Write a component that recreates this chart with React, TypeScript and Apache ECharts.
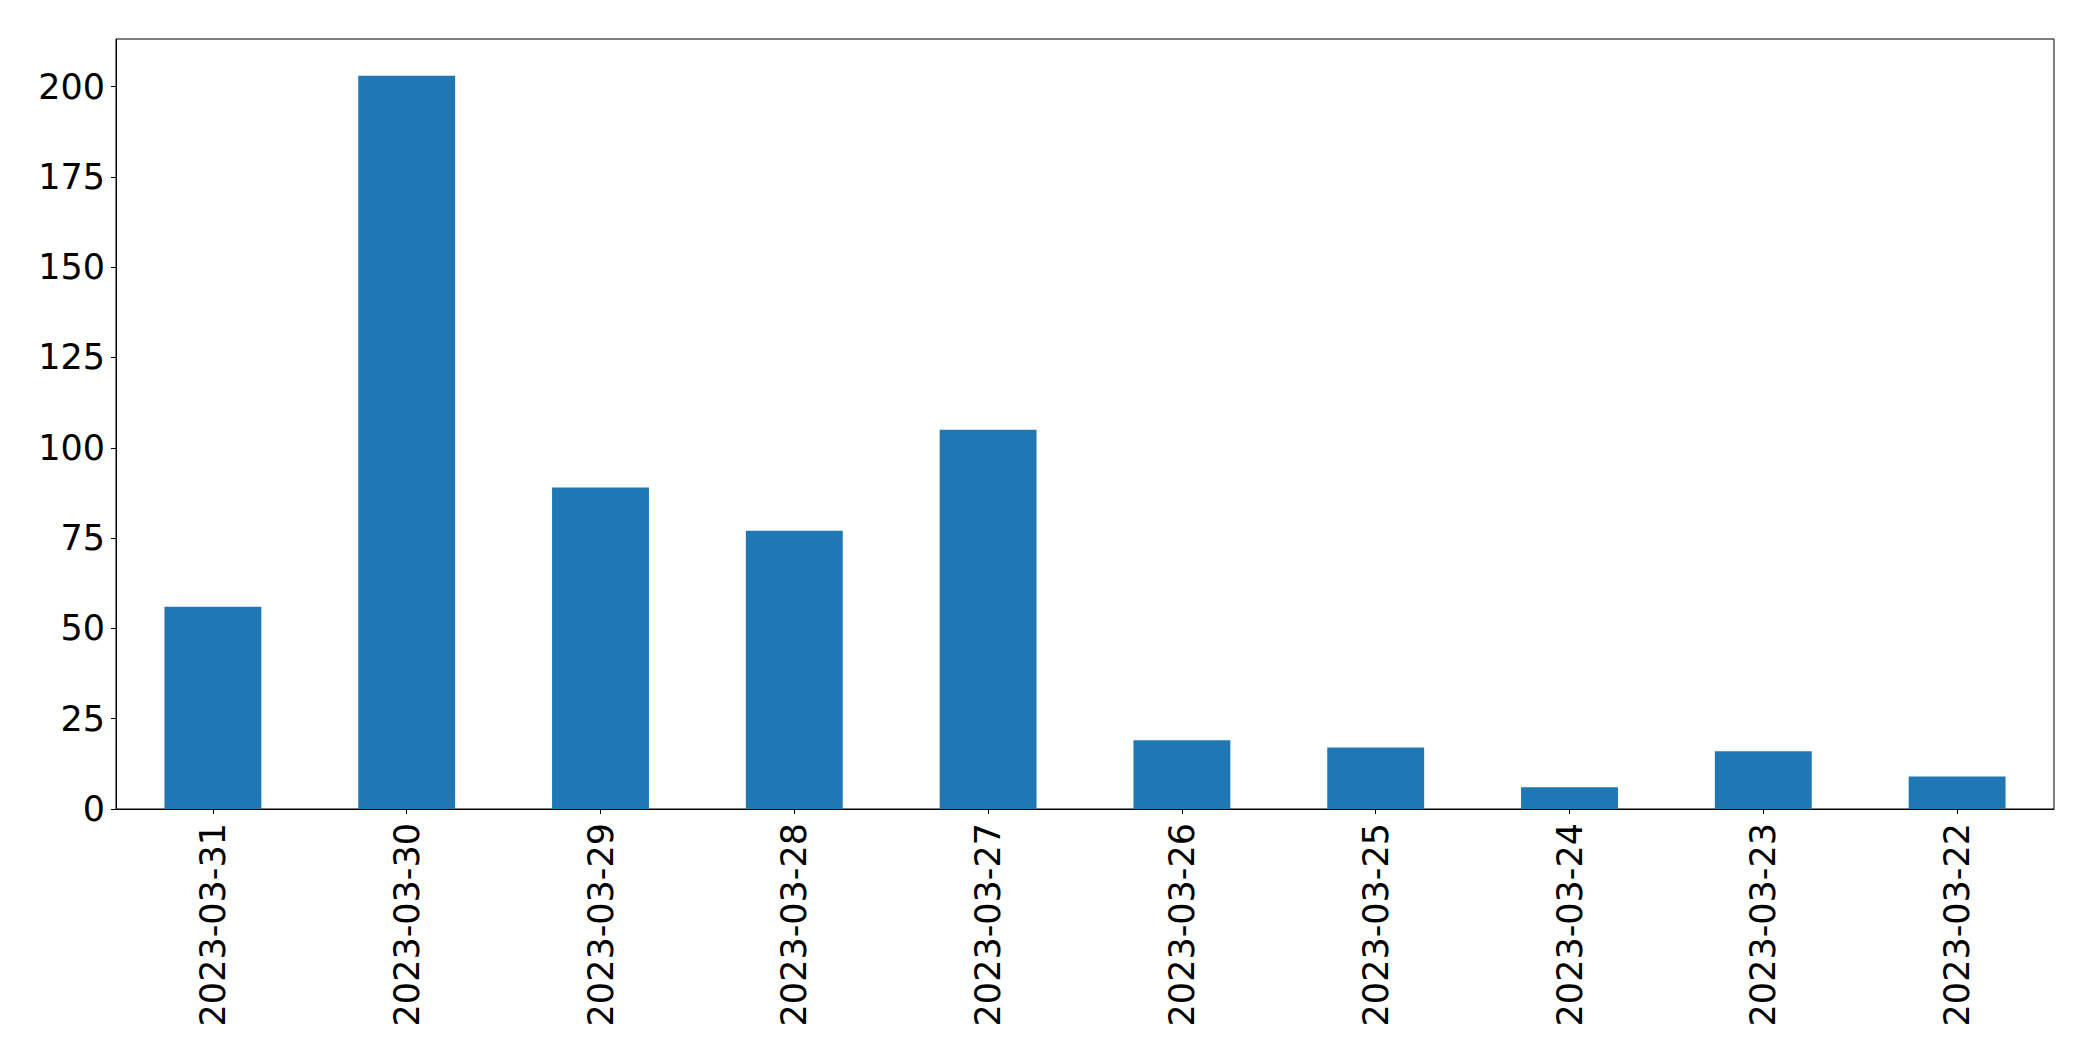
import React, { useEffect, useRef } from "react";
import * as echarts from "echarts";

const categories = [
  "2023-03-31",
  "2023-03-30",
  "2023-03-29",
  "2023-03-28",
  "2023-03-27",
  "2023-03-26",
  "2023-03-25",
  "2023-03-24",
  "2023-03-23",
  "2023-03-22",
];
const values = [56, 203, 89, 77, 105, 19, 17, 6, 16, 9];
const yTicks = [0, 25, 50, 75, 100, 125, 150, 175, 200];

const FONT = "DejaVu Sans";

export default function App() {
  const ref = useRef<HTMLDivElement>(null);
  useEffect(() => {
    if (!ref.current) return;
    const chart = echarts.init(ref.current, null, { renderer: "svg" });
    const yMax = Math.max(...values) * 1.05;
    chart.setOption({
      animation: false,
      backgroundColor: "#ffffff",
      grid: {
        left: 116,
        right: 39,
        top: 39,
        bottom: 252,
        show: true,
        borderColor: "#000000",
        borderWidth: 1,
        backgroundColor: "transparent",
      },
      xAxis: {
        type: "category",
        data: categories,
        boundaryGap: true,
        axisLine: { show: true, lineStyle: { color: "#000000", width: 1 } },
        axisTick: { show: true, alignWithLabel: true, length: 5, lineStyle: { color: "#000000", width: 1 } },
        axisLabel: {
          rotate: 90,
          margin: 14,
          color: "#000000",
          fontFamily: FONT,
          fontSize: 35,
          interval: 0,
        },
        splitLine: { show: false },
      },
      yAxis: {
        type: "value",
        min: 0,
        max: yMax,
        axisLine: { show: true, lineStyle: { color: "#000000", width: 1 } },
        axisTick: { show: true, length: 5, lineStyle: { color: "#000000", width: 1 }, customValues: yTicks },
        axisLabel: {
          margin: 11,
          color: "#000000",
          fontFamily: FONT,
          fontSize: 35,
          customValues: yTicks,
        },
        splitLine: { show: false },
      },
      series: [
        {
          type: "bar",
          data: values,
          barWidth: "50%",
          itemStyle: { color: "#1f77b4" },
        },
      ],
    });
    return () => chart.dispose();
  }, []);
  return (
    <div
      ref={ref}
      style={{ position: "fixed", left: 0, top: 0, width: 2093, height: 1061, background: "#fff" }}
    />
  );
}
